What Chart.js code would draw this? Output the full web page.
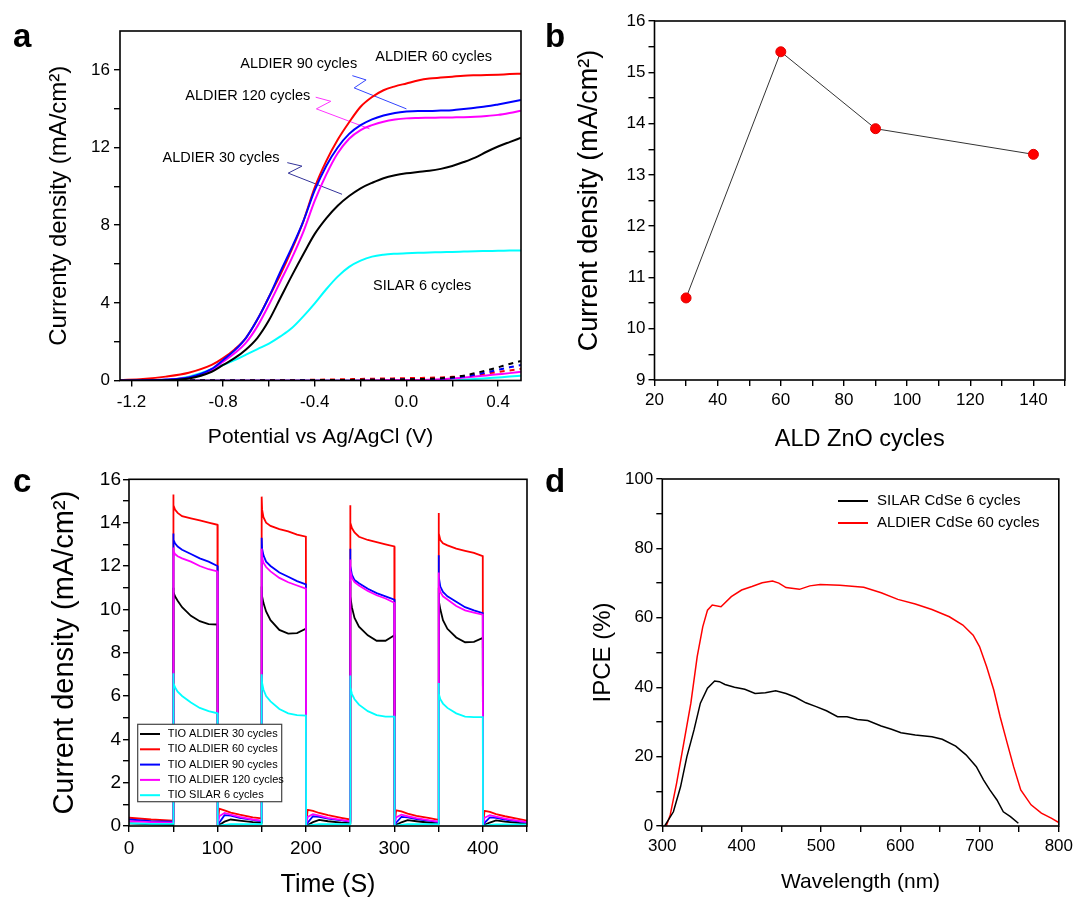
<!DOCTYPE html>
<html>
<head>
<meta charset="utf-8">
<script src="https://cdn.jsdelivr.net/npm/chart.js@4.4.1/dist/chart.umd.min.js"></script>
<style>
    html, body { margin: 0; padding: 0; background: #fff; }
    #page { position: relative; width: 1077px; height: 898px; overflow: hidden; }
    #page canvas { position: absolute; left: 0; top: 0; }
    .tag { position: absolute; font: bold 33px 'Liberation Sans', Arial, sans-serif; line-height: 1; color: #000; }
</style>
</head>
<body>
<div id="page">
    <canvas id="chart-a" width="1077" height="898"></canvas>
    <canvas id="chart-b" width="1077" height="898"></canvas>
    <canvas id="chart-c" width="1077" height="898"></canvas>
    <canvas id="chart-d" width="1077" height="898"></canvas>
    <div class="tag" style="left:13px;top:19px">a</div>
    <div class="tag" style="left:545px;top:19px">b</div>
    <div class="tag" style="left:13px;top:464px">c</div>
    <div class="tag" style="left:545px;top:464px">d</div>
</div>
<script>
var FONT = "'Liberation Sans', Arial, sans-serif";

// ---- panel a: J-V curves ----
var aV = [-1.25, -1.15, -1.05, -0.95, -0.85, -0.8, -0.75, -0.7, -0.65, -0.6, -0.55, -0.5, -0.45, -0.4, -0.35, -0.3,
    -0.25, -0.2, -0.15, -0.1, -0.05, 0, 0.05, 0.1, 0.15, 0.2, 0.25, 0.3, 0.35, 0.4, 0.45, 0.5];
var aLight30 = [0, 0, 0.01, 0.1, 0.45, 0.8, 1.15, 1.6, 2.2, 3.1, 4.25, 5.4, 6.5, 7.55, 8.35, 9.0,
    9.5, 9.9, 10.18, 10.42, 10.57, 10.67, 10.74, 10.8, 10.9, 11.05, 11.25, 11.48, 11.78, 12.05, 12.28, 12.5];
var aLight60 = [0.02, 0.08, 0.2, 0.4, 0.8, 1.15, 1.6, 2.2, 3.15, 4.3, 5.45, 6.75, 8.2, 9.95, 11.3, 12.4,
    13.3, 14.1, 14.6, 14.95, 15.15, 15.3, 15.45, 15.55, 15.6, 15.65, 15.7, 15.72, 15.73, 15.75, 15.78, 15.8];
var aLight90 = [0, 0.01, 0.05, 0.16, 0.6, 1.06, 1.55, 2.2, 3.15, 4.3, 5.6, 6.85, 8.2, 9.8, 11.05, 12.0,
    12.7, 13.15, 13.45, 13.65, 13.78, 13.85, 13.88, 13.88, 13.9, 13.92, 13.98, 14.05, 14.12, 14.22, 14.33, 14.45];
var aLight120 = [0, 0.01, 0.04, 0.15, 0.55, 0.97, 1.4, 1.95, 2.8, 3.9, 5.1, 6.3, 7.65, 9.26, 10.6, 11.7,
    12.45, 12.9, 13.15, 13.33, 13.44, 13.5, 13.52, 13.53, 13.54, 13.55, 13.56, 13.58, 13.62, 13.68, 13.78, 13.9];
var aLightSilar = [0, 0, 0.03, 0.2, 0.58, 0.8, 1.05, 1.33, 1.62, 1.9, 2.27, 2.7, 3.3, 3.97, 4.7, 5.35,
    5.85, 6.17, 6.38, 6.48, 6.53, 6.56, 6.58, 6.59, 6.61, 6.62, 6.64, 6.66, 6.67, 6.68, 6.69, 6.7];
var aDark30 = [0, 0, 0, 0, 0, 0, 0, 0, 0, 0, 0, 0, 0, 0.02, 0.02, 0.03,
    0.03, 0.04, 0.04, 0.05, 0.05, 0.06, 0.07, 0.09, 0.12, 0.17, 0.25, 0.38, 0.52, 0.68, 0.85, 1.0];
var aDark60 = [0, 0, 0, 0, 0, 0, 0, 0.01, 0.01, 0.02, 0.02, 0.03, 0.03, 0.04, 0.05, 0.06,
    0.07, 0.08, 0.09, 0.1, 0.11, 0.12, 0.13, 0.14, 0.16, 0.19, 0.23, 0.29, 0.36, 0.44, 0.52, 0.6];
var aDark90 = [0, 0, 0, 0, 0, 0, 0, 0, 0, 0, 0, 0, 0.01, 0.01, 0.02, 0.02,
    0.03, 0.03, 0.04, 0.04, 0.05, 0.05, 0.06, 0.07, 0.09, 0.13, 0.2, 0.3, 0.42, 0.55, 0.68, 0.8];
var aDark120 = [0, 0, 0, 0, 0, 0, 0, 0, 0, 0, 0, 0, 0, 0, 0, 0,
    0, 0.01, 0.01, 0.02, 0.02, 0.03, 0.03, 0.04, 0.06, 0.1, 0.15, 0.2, 0.26, 0.32, 0.38, 0.45];
var aDarkSilar = [0, 0, 0, 0, 0, 0, 0, 0, 0, 0, 0, 0, 0, 0, 0, 0,
    0, 0, 0, 0, 0, 0, 0, 0, 0, 0, 0.05, 0.08, 0.12, 0.16, 0.2, 0.25];
var aXTicks = [-1.2, -1.0, -0.8, -0.6, -0.4, -0.2, 0, 0.2, 0.4];
var aYTicks = [0, 2, 4, 6, 8, 10, 12, 14, 16];

// labels written inside panel a, and their zig-zag pointers (data units)
var aNoteText = ['ALDIER 90 cycles', 'ALDIER 60 cycles', 'ALDIER 120 cycles', 'ALDIER 30 cycles', 'SILAR 6 cycles'];
var aNoteV = [-0.725, -0.136, -0.965, -1.064, -0.146];
var aNoteJ = [16.3, 16.64, 14.64, 11.44, 4.88];
var aPointer90V = [-0.236, -0.176, -0.228, 0.0];
var aPointer90J = [15.7, 15.48, 15.07, 13.99];
var aPointer120V = [-0.396, -0.330, -0.393, -0.161];
var aPointer120J = [14.59, 14.38, 13.99, 12.96];
var aPointer30V = [-0.520, -0.456, -0.516, -0.281];
var aPointer30J = [11.22, 11.04, 10.68, 9.59];

// ---- panel b: current vs ALD cycles ----
var bCycles = [30, 60, 90, 140];
var bCurrent = [10.6, 15.4, 13.9, 13.4];
var bXTicks = [20, 30, 40, 50, 60, 70, 80, 90, 100, 110, 120, 130, 140, 150];
var bYTicks = [9, 9.5, 10, 10.5, 11, 11.5, 12, 12.5, 13, 13.5, 14, 14.5, 15, 15.5, 16];

// ---- panel c: chopped light transients ----
var cTime = [0, 25, 49.9,
    50, 50.5, 52, 55, 60, 70, 80, 90, 100, 100.3, 102, 108, 115, 125, 140, 149.9,
    150, 150.5, 152, 155, 160, 170, 180, 190, 200, 200.3, 202, 208, 215, 225, 240, 249.9,
    250, 250.5, 252, 255, 260, 270, 280, 290, 300, 300.3, 302, 308, 315, 325, 340, 349.9,
    350, 350.5, 352, 355, 360, 370, 380, 390, 400, 400.3, 402, 408, 415, 425, 440, 450];
var cAldier30 = [0.12, 0.08, 0.05,
    11.0, 10.8, 10.6, 10.4, 10.1, 9.7, 9.45, 9.32, 9.3, 0.01, 0.05, 0.2, 0.3, 0.25, 0.18, 0.15,
    11.05, 10.6, 10.3, 9.9, 9.5, 9.05, 8.88, 8.9, 9.1, 0.01, 0.05, 0.18, 0.28, 0.22, 0.16, 0.13,
    11.3, 10.6, 10.1, 9.6, 9.2, 8.8, 8.55, 8.55, 8.8, 0.01, 0.05, 0.17, 0.27, 0.22, 0.15, 0.12,
    11.0, 10.4, 10.0, 9.5, 9.1, 8.7, 8.48, 8.5, 8.68, 0.01, 0.05, 0.16, 0.26, 0.2, 0.14, 0.1];
var cAldier60 = [0.38, 0.3, 0.25,
    15.3, 14.8, 14.6, 14.45, 14.3, 14.2, 14.1, 14.0, 13.9, 0.05, 0.8, 0.72, 0.62, 0.52, 0.4, 0.35,
    15.2, 14.6, 14.25, 14.0, 13.85, 13.7, 13.6, 13.45, 13.35, 0.05, 0.75, 0.7, 0.6, 0.5, 0.38, 0.3,
    14.8, 14.0, 13.75, 13.55, 13.35, 13.2, 13.1, 13.0, 12.9, 0.05, 0.72, 0.67, 0.57, 0.47, 0.36, 0.28,
    14.45, 13.5, 13.2, 13.05, 12.95, 12.8, 12.7, 12.6, 12.45, 0.05, 0.7, 0.65, 0.55, 0.45, 0.33, 0.25];
var cAldier90 = [0.3, 0.22, 0.2,
    13.5, 13.2, 13.05, 12.9, 12.75, 12.55, 12.35, 12.2, 12.0, 0.02, 0.15, 0.5, 0.48, 0.38, 0.28, 0.22,
    13.3, 12.8, 12.5, 12.2, 12.0, 11.7, 11.5, 11.3, 11.15, 0.02, 0.15, 0.45, 0.42, 0.34, 0.26, 0.2,
    12.8, 12.0, 11.6, 11.35, 11.2, 10.95, 10.75, 10.6, 10.45, 0.02, 0.15, 0.42, 0.4, 0.32, 0.24, 0.18,
    12.5, 11.5, 11.05, 10.8, 10.6, 10.35, 10.1, 9.95, 9.82, 0.02, 0.15, 0.4, 0.38, 0.3, 0.22, 0.16];
var cAldier120 = [0.22, 0.18, 0.15,
    12.85, 12.7, 12.55, 12.45, 12.35, 12.2, 12.0, 11.85, 11.75, 0.03, 0.45, 0.6, 0.52, 0.42, 0.3, 0.25,
    12.8, 12.4, 12.15, 11.95, 11.75, 11.45, 11.25, 11.1, 10.95, 0.03, 0.42, 0.55, 0.48, 0.38, 0.28, 0.22,
    12.3, 11.8, 11.45, 11.25, 11.1, 10.85, 10.65, 10.5, 10.3, 0.03, 0.4, 0.52, 0.45, 0.36, 0.26, 0.2,
    11.7, 11.1, 10.8, 10.6, 10.45, 10.15, 9.95, 9.85, 9.75, 0.03, 0.38, 0.5, 0.43, 0.34, 0.24, 0.18];
var cSilar6 = [0.12, 0.1, 0.1,
    7.05, 6.6, 6.4, 6.2, 6.0, 5.7, 5.45, 5.3, 5.2, 0, 0.02, 0.05, 0.08, 0.08, 0.08, 0.08,
    7.0, 6.6, 6.3, 6.0, 5.75, 5.4, 5.2, 5.12, 5.1, 0, 0.02, 0.05, 0.08, 0.08, 0.08, 0.08,
    6.95, 6.4, 6.1, 5.85, 5.6, 5.3, 5.12, 5.05, 5.05, 0, 0.02, 0.05, 0.08, 0.08, 0.08, 0.08,
    6.6, 6.1, 5.85, 5.65, 5.45, 5.2, 5.05, 5.02, 5.02, 0, 0.02, 0.05, 0.07, 0.07, 0.07, 0.07];
var cXTicks = [0, 50, 100, 150, 200, 250, 300, 350, 400, 450];
var cYTicks = [0, 1, 2, 3, 4, 5, 6, 7, 8, 9, 10, 11, 12, 13, 14, 15, 16];

// ---- panel d: IPCE spectra ----
var dWaveSilar = [303, 314, 323, 331, 340, 348, 357, 366, 372, 379, 391, 404, 417, 430, 443, 456, 468, 481, 494, 507,
    521, 533, 546, 559, 576, 589, 601, 619, 640, 653, 670, 683, 696, 705, 713, 722, 730, 739, 749];
var dIpceSilar = [0, 4.1, 11.3, 20, 27.7, 35.4, 39.7, 41.8, 41.6, 40.8, 40, 39.4, 38.2, 38.4, 39, 38.2, 37.1, 35.5, 34.4, 33.2,
    31.5, 31.5, 30.7, 30.4, 28.8, 27.9, 26.9, 26.2, 25.7, 25, 23, 20.5, 17.1, 13.3, 10.4, 7.5, 4.1, 2.7, 0.8];
var dWaveAldier = [305, 310, 318, 327, 336, 344, 351, 357, 363, 374, 387, 400, 413, 426, 439, 447, 456, 473, 486, 499,
    524, 554, 576, 597, 619, 640, 662, 679, 692, 700, 709, 718, 726, 735, 743, 752, 765, 778, 791, 800];
var dIpceAldier = [0, 3.2, 12.3, 23.8, 35.4, 48.8, 57.4, 62.2, 63.7, 63.2, 66.1, 68, 69, 70.1, 70.6, 70, 68.7, 68.2, 69.2, 69.6,
    69.4, 68.8, 67.2, 65.3, 64, 62.4, 60.3, 57.9, 55, 51.7, 45.9, 39.2, 31.5, 23.8, 17.1, 10.4, 6.1, 3.7, 2.2, 1.0];
var dXTicks = [300, 350, 400, 450, 500, 550, 600, 650, 700, 750, 800];
var dYTicks = [0, 10, 20, 30, 40, 50, 60, 70, 80, 90, 100];

Chart.defaults.font.family = FONT;
Chart.defaults.color = '#000';

function pairs(xs, ys) {
    return xs.map(function (x, i) {
        return { x: x, y: ys[i] };
    });
}

function labelEvery(step, decimals) {
    return function (value) {
        var r = value / step;
        return Math.abs(r - Math.round(r)) < 1e-6 ? value.toFixed(decimals) : '';
    };
}

function axis(o) {
    return {
        type: 'linear',
        min: o.min,
        max: o.max,
        afterBuildTicks: function (scale) {
            scale.ticks = o.ticks.map(function (v) {
                return { value: v };
            });
        },
        afterFit: function (scale) {
            if (o.width) scale.width = o.width;
            if (o.height) scale.height = o.height;
        },
        ticks: {
            autoSkip: false,
            maxRotation: 0,
            color: '#000',
            padding: o.pad,
            font: { family: FONT, size: o.tickSize },
            callback: o.label,
        },
        grid: { drawOnChartArea: false, drawTicks: true, tickLength: 6, color: '#000', lineWidth: 1.4 },
        border: { display: false },
        title: {
            display: true,
            text: o.title,
            color: '#000',
            padding: 0,
            font: { family: FONT, size: o.titleSize, lineHeight: 1 },
        },
    };
}

var frame = {
    id: 'frame',
    afterDraw: function (chart) {
        var a = chart.chartArea, ctx = chart.ctx;
        ctx.save();
        ctx.strokeStyle = '#000';
        ctx.lineWidth = 1.6;
        ctx.strokeRect(a.left, a.top, a.right - a.left, a.bottom - a.top);
        ctx.restore();
    },
};

var insetLegend = {
    id: 'insetLegend',
    afterDraw: function (chart, args, opts) {
        var ctx = chart.ctx, area = chart.chartArea;
        var x0 = area.left + opts.left, y0 = area.top + opts.top;
        var items = chart.data.datasets.filter(function (d) {
            return d.inLegend;
        });
        ctx.save();
        if (opts.boxWidth) {
            ctx.fillStyle = '#fff';
            ctx.fillRect(x0, y0, opts.boxWidth, opts.boxHeight);
            ctx.strokeStyle = '#444';
            ctx.lineWidth = 1.2;
            ctx.strokeRect(x0, y0, opts.boxWidth, opts.boxHeight);
        }
        ctx.font = opts.fontSize + 'px ' + FONT;
        ctx.textBaseline = 'middle';
        ctx.textAlign = 'left';
        items.forEach(function (d, i) {
            var y = y0 + opts.firstRow + i * opts.rowHeight;
            ctx.strokeStyle = d.borderColor;
            ctx.lineWidth = 2;
            ctx.beginPath();
            ctx.moveTo(x0 + opts.lineStart, y);
            ctx.lineTo(x0 + opts.lineStart + opts.lineLength, y);
            ctx.stroke();
            ctx.fillStyle = '#000';
            ctx.fillText(d.label, x0 + opts.textStart, y);
        });
        ctx.restore();
    },
};

var notesA = {
    id: 'notesA',
    afterDatasetsDraw: function (chart) {
        var xs = chart.scales.x, ys = chart.scales.y, ctx = chart.ctx;
        ctx.save();
        ctx.font = '14.5px ' + FONT;
        ctx.fillStyle = '#000';
        ctx.textBaseline = 'middle';
        ctx.textAlign = 'left';
        aNoteText.forEach(function (t, i) {
            ctx.fillText(t, xs.getPixelForValue(aNoteV[i]), ys.getPixelForValue(aNoteJ[i]));
        });
        ctx.restore();
    },
};

function curve(label, xs, ys, color, extra) {
    var ds = {
        label: label,
        data: pairs(xs, ys),
        borderColor: color,
        backgroundColor: color,
        borderWidth: 2,
        pointRadius: 0,
        tension: 0,
        fill: false,
    };
    Object.keys(extra || {}).forEach(function (k) {
        ds[k] = extra[k];
    });
    return ds;
}

var baseOptions = function (padding, scales, pluginOpts) {
    var plugins = { legend: { display: false }, tooltip: { enabled: false } };
    Object.keys(pluginOpts || {}).forEach(function (k) {
        plugins[k] = pluginOpts[k];
    });
    return {
        responsive: false,
        animation: false,
        events: [],
        layout: { padding: padding },
        scales: scales,
        plugins: plugins,
    };
};

// panel a
var smooth = { cubicInterpolationMode: 'monotone' };
new Chart(document.getElementById('chart-a'), {
    type: 'line',
    data: {
        datasets: [
            curve('30 light', aV, aLight30, '#000000', smooth),
            curve('90 light', aV, aLight90, '#0000ff', smooth),
            curve('120 light', aV, aLight120, '#ff00ff', smooth),
            curve('60 light', aV, aLight60, '#ff0000', smooth),
            curve('SILAR light', aV, aLightSilar, '#00ffff', smooth),
            curve('30 dark', aV, aDark30, '#000000', { cubicInterpolationMode: 'monotone', borderDash: [5, 5] }),
            curve('90 dark', aV, aDark90, '#0000ff', { cubicInterpolationMode: 'monotone', borderDash: [5, 5] }),
            curve('60 dark', aV, aDark60, '#ff0000', { cubicInterpolationMode: 'monotone', borderDash: [5, 5] }),
            curve('120 dark', aV, aDark120, '#ff00ff', smooth),
            curve('SILAR dark', aV, aDarkSilar, '#00ffff', smooth),
            curve('pointer 90', aPointer90V, aPointer90J, '#3344ff', { borderWidth: 1 }),
            curve('pointer 120', aPointer120V, aPointer120J, '#ff33ff', { borderWidth: 1 }),
            curve('pointer 30', aPointer30V, aPointer30J, '#333399', { borderWidth: 1 }),
        ],
    },
    options: baseOptions({ left: 47, top: 31, right: 556, bottom: 450 }, {
        x: axis({ min: -1.25, max: 0.5, ticks: aXTicks, label: labelEvery(0.4, 1), height: 67.5, pad: 6, tickSize: 17,
            title: 'Potential vs Ag/AgCl (V)', titleSize: 21 }),
        y: axis({ min: 0, max: 18, ticks: aYTicks, label: labelEvery(4, 0), width: 73, pad: 4, tickSize: 17,
            title: 'Currenty density (mA/cm\u00b2)', titleSize: 24 }),
    }),
    plugins: [frame, notesA],
});

// panel b
new Chart(document.getElementById('chart-b'), {
    type: 'line',
    data: {
        datasets: [
            curve('Current density', bCycles, bCurrent, '#333333', {
                borderWidth: 1,
                pointRadius: 5,
                pointBackgroundColor: '#ff0000',
                pointBorderColor: '#e00000',
                pointBorderWidth: 1,
            }),
        ],
    },
    options: baseOptions({ left: 576, top: 21, right: 12, bottom: 447 }, {
        x: axis({ min: 20, max: 150, ticks: bXTicks, label: labelEvery(20, 0), height: 71, pad: 4, tickSize: 17,
            title: 'ALD ZnO cycles', titleSize: 23.5 }),
        y: axis({ min: 9, max: 16, ticks: bYTicks, label: labelEvery(1, 0), width: 78.5, pad: 3, tickSize: 17,
            title: 'Current density (mA/cm\u00b2)', titleSize: 27 }),
    }),
    plugins: [frame],
});

// panel c
var cLine = function (label, ys, color, order) {
    return curve(label, cTime, ys, color, { borderWidth: 1.8, order: order, inLegend: true });
};
new Chart(document.getElementById('chart-c'), {
    type: 'line',
    data: {
        datasets: [
            cLine('TIO ALDIER 30 cycles', cAldier30, '#000000', 5),
            cLine('TIO ALDIER 60 cycles', cAldier60, '#ff0000', 4),
            cLine('TIO ALDIER 90 cycles', cAldier90, '#0000ff', 3),
            cLine('TIO ALDIER 120 cycles', cAldier120, '#ff00ff', 2),
            cLine('TIO SILAR 6 cycles', cSilar6, '#00ffff', 1),
        ],
    },
    options: baseOptions({ left: 50, top: 479.3, right: 550, bottom: 0 }, {
        x: axis({ min: 0, max: 450, ticks: cXTicks, label: labelEvery(100, 0), height: 72, pad: 5, tickSize: 19,
            title: 'Time (S)', titleSize: 25 }),
        y: axis({ min: 0, max: 16, ticks: cYTicks, label: labelEvery(2, 0), width: 79, pad: 2, tickSize: 19,
            title: 'Current density (mA/cm\u00b2)', titleSize: 29 }),
    }, {
        insetLegend: { left: 8.7, top: 245, boxWidth: 144, boxHeight: 77.4, firstRow: 9.7, rowHeight: 15.3,
            lineStart: 2.3, lineLength: 20, textStart: 30, fontSize: 11 },
    }),
    plugins: [frame, insetLegend],
});

// panel d
new Chart(document.getElementById('chart-d'), {
    type: 'line',
    data: {
        datasets: [
            curve('SILAR CdSe 6 cycles', dWaveSilar, dIpceSilar, '#000000', { borderWidth: 1.5, inLegend: true }),
            curve('ALDIER CdSe 60 cycles', dWaveAldier, dIpceAldier, '#ff0000', { borderWidth: 1.5, inLegend: true }),
        ],
    },
    options: baseOptions({ left: 591, top: 479, right: 16, bottom: 5.5 }, {
        x: axis({ min: 300, max: 800, ticks: dXTicks, label: labelEvery(100, 0), height: 66.5, pad: 4, tickSize: 17,
            title: 'Wavelength (nm)', titleSize: 21 }),
        y: axis({ min: 0, max: 100, ticks: dYTicks, label: labelEvery(20, 0), width: 71.3, pad: 3, tickSize: 17,
            title: 'IPCE (%)', titleSize: 24 }),
    }, {
        insetLegend: { left: 0, top: 0, firstRow: 22, rowHeight: 22, lineStart: 175.7, lineLength: 30,
            textStart: 214.7, fontSize: 15 },
    }),
    plugins: [frame, insetLegend],
});
</script>
</body>
</html>
